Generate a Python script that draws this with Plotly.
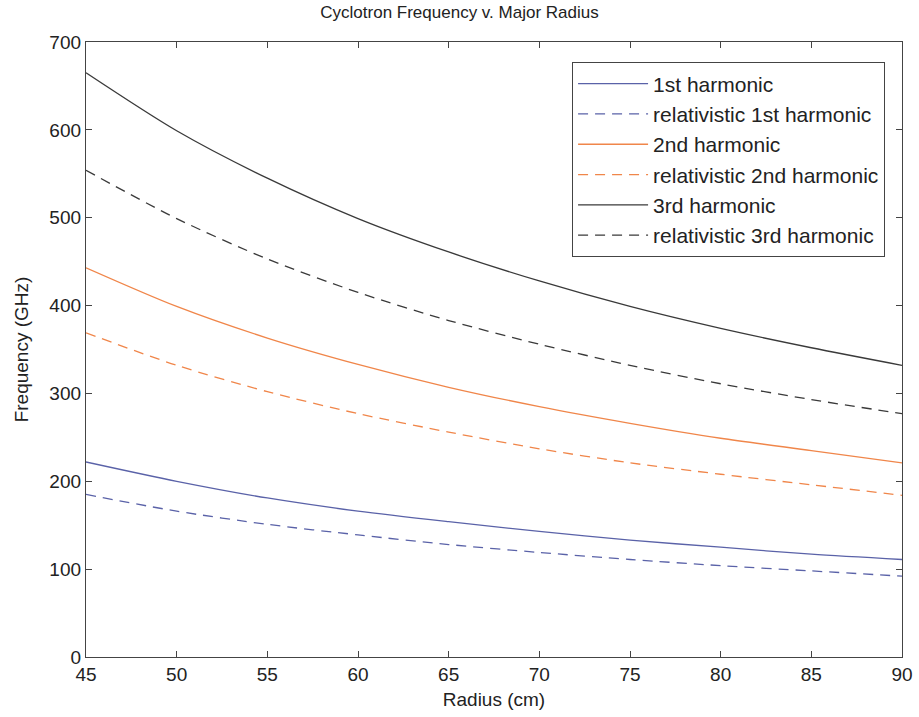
import plotly.graph_objects as go

radius = [45, 50, 55, 60, 65, 70, 75, 80, 85, 90]
h1 = [222, 200, 181, 166, 154, 143, 133, 125, 117, 111]
rel_h1 = [185, 166, 151, 139, 128, 119, 111, 104, 98, 92]
h2 = [443, 399, 363, 333, 307, 285, 266, 249, 235, 221]
rel_h2 = [369, 332, 302, 277, 256, 237, 221, 208, 196, 184]
h3 = [665, 599, 545, 499, 461, 428, 399, 374, 352, 332]
rel_h3 = [554, 499, 453, 415, 383, 356, 332, 311, 293, 277]

names = ["1st harmonic", "relativistic 1st harmonic", "2nd harmonic",
         "relativistic 2nd harmonic", "3rd harmonic", "relativistic 3rd harmonic"]
series = [h1, rel_h1, h2, rel_h2, h3, rel_h3]
colors = ["#5a62a8", "#5a62a8", "#f0864a", "#f0864a", "#3a3a3a", "#3a3a3a"]
dashes = ["solid", "10px,7px", "solid", "10px,7px", "solid", "10px,7px"]

fig = go.Figure()
for n, s, c, d in zip(names, series, colors, dashes):
    fig.add_trace(go.Scatter(x=radius, y=s, name=n, mode="lines",
                             line=dict(color=c, width=1.3, dash=d, shape="spline", smoothing=0.8)))

axis_common = dict(showgrid=False, zeroline=False, showline=True, linecolor="#444",
                   linewidth=1.3, mirror="ticks", ticks="inside", ticklen=6,
                   tickcolor="#444", tickfont=dict(size=19, color="#222"),
                   automargin=False, ticklabeloverflow="allow")

fig.update_layout(
    width=919, height=717,
    margin=dict(l=86, r=17, t=42, b=60, autoexpand=False),
    paper_bgcolor="white", plot_bgcolor="white",
    font=dict(family="Liberation Sans, Arial, sans-serif", color="#222"),
    title=dict(text="Cyclotron Frequency v. Major Radius", x=0.5, xanchor="center",
               y=0.991, yanchor="top", font=dict(size=17)),
    xaxis=dict(range=[45, 90], tickvals=[45, 50, 55, 60, 65, 70, 75, 80, 85, 90],
               title=dict(text="Radius (cm)", font=dict(size=19), standoff=8), **axis_common),
    yaxis=dict(range=[0, 700], tickvals=[0, 100, 200, 300, 400, 500, 600, 700],
               title=dict(text="Frequency (GHz)", font=dict(size=19), standoff=15), **axis_common),
    legend=dict(x=0.979, y=0.967, xanchor="right", yanchor="top",
                bordercolor="#444", borderwidth=1.2, bgcolor="white",
                itemwidth=70, font=dict(size=21, color="#222")),
)

fig.write_html("out.html", config={"displayModeBar": False},
               post_script="document.body.style.margin='0';document.body.style.overflow='hidden';")
